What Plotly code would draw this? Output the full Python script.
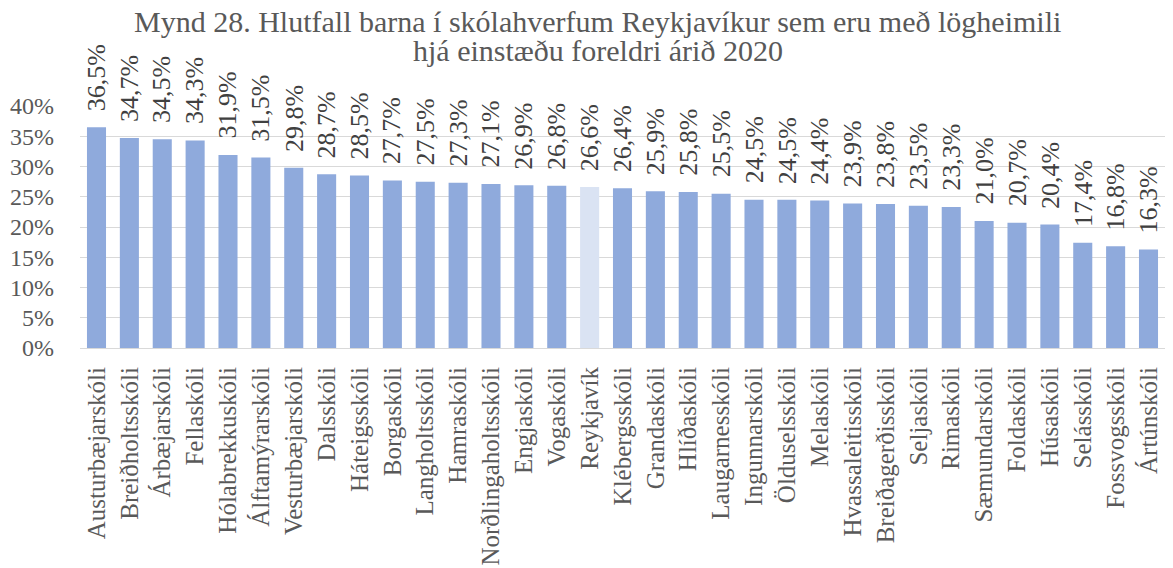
import plotly.graph_objects as go

schools = ["Austurbæjarskóli", "Breiðholtsskóli", "Árbæjarskóli", "Fellaskóli", "Hólabrekkuskóli",
           "Álftamýrarskóli", "Vesturbæjarskóli", "Dalsskóli", "Háteigsskóli", "Borgaskóli",
           "Langholtsskóli", "Hamraskóli", "Norðlingaholtsskóli", "Engjaskóli", "Vogaskóli",
           "Reykjavík", "Klébergsskóli", "Grandaskóli", "Hlíðaskóli", "Laugarnesskóli",
           "Ingunnarskóli", "Ölduselsskóli", "Melaskóli", "Hvassaleitisskóli", "Breiðagerðisskóli",
           "Seljaskóli", "Rimaskóli", "Sæmundarskóli", "Foldaskóli", "Húsaskóli",
           "Selásskóli", "Fossvogsskóli", "Ártúnskóli"]
values = [36.5, 34.7, 34.5, 34.3, 31.9, 31.5, 29.8, 28.7, 28.5, 27.7,
          27.5, 27.3, 27.1, 26.9, 26.8, 26.6, 26.4, 25.9, 25.8, 25.5,
          24.5, 24.5, 24.4, 23.9, 23.8, 23.5, 23.3, 21.0, 20.7, 20.4,
          17.4, 16.8, 16.3]
y_ticks = [0, 5, 10, 15, 20, 25, 30, 35, 40]
title_lines = ["Mynd 28. Hlutfall barna í skólahverfum Reykjavíkur sem eru með lögheimili",
               "hjá einstæðu foreldri árið 2020"]

FONT = "Liberation Serif"
GRAY = "#595959"

colors = ["#dae3f3" if s == "Reykjavík" else "#8faadc" for s in schools]
labels = [f"{v:.1f}%".replace(".", ",") for v in values]

fig = go.Figure(go.Bar(
    x=schools, y=values, marker_color=colors, marker_line_width=0,
    hoverinfo="x+y",
))

for s, v, lab in zip(schools, values, labels):
    fig.add_annotation(x=s, y=v, text=lab, showarrow=False, textangle=-90,
                       xanchor="center", yanchor="bottom", yshift=14,
                       font=dict(family=FONT, size=26, color="#404040"))

for line, ypos in zip(title_lines, [1.351, 1.229]):
    fig.add_annotation(
        text=line, xref="paper", yref="paper", x=0.477, y=ypos,
        xanchor="center", yanchor="middle", borderpad=0,
        showarrow=False, font=dict(family=FONT, size=30, color=GRAY))

fig.update_layout(
    width=1165, height=560,
    margin=dict(l=72, r=8, t=98, b=220),
    paper_bgcolor="white", plot_bgcolor="white",
    bargap=0.42, showlegend=False,
    font=dict(family=FONT, color=GRAY),
)
fig.update_yaxes(range=[0, 40], tickvals=y_ticks, ticktext=[f"{t}%" for t in y_ticks],
                 showgrid=True, gridcolor="#d9d9d9", gridwidth=1, zeroline=True,
                 zerolinecolor="#d9d9d9", zerolinewidth=1, tickfont=dict(family=FONT, size=24, color=GRAY),
                 ticks="", showline=False, automargin=False, ticklabelstandoff=25)
fig.update_xaxes(tickangle=-90, tickfont=dict(family=FONT, size=25, color=GRAY), showline=True,
                 linecolor="#d9d9d9", ticks="", automargin=False, ticklabelstandoff=8)

fig.write_html("out.html")
